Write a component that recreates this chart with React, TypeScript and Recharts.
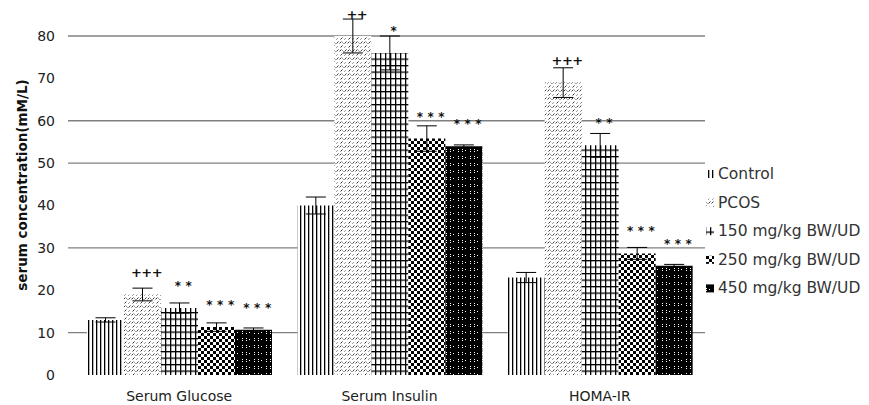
import React from "react";
import {
  BarChart,
  Bar,
  XAxis,
  YAxis,
  CartesianGrid,
  ErrorBar,
  LabelList,
  Legend,
  Label,
} from "recharts";

// ---- data ----
const categories = ["Serum Glucose", "Serum Insulin", "HOMA-IR"];

const controlValues = [13, 40, 23];
const controlErrors = [0.5, 2, 1.2];

const pcosValues = [19, 80, 69];
const pcosErrors = [1.5, 4, 3.5];
const pcosSig = ["+++", "++", "+++"];

const d150Values = [15.8, 76, 54.2];
const d150Errors = [1.2, 4, 2.8];
const d150Sig = ["**", "*", "**"];

const d250Values = [11.3, 55.8, 28.7];
const d250Errors = [1.0, 3, 1.4];
const d250Sig = ["***", "***", "***"];

const d450Values = [10.7, 54, 25.8];
const d450Errors = [0.4, 0.3, 0.3];
const d450Sig = ["***", "***", "***"];

const yTicks = [0, 10, 20, 30, 40, 50, 60, 70, 80];
const gridValues = [10, 30, 50, 60, 80];

const legendLabels = [
  "Control",
  "PCOS",
  "150 mg/kg BW/UD",
  "250 mg/kg BW/UD",
  "450 mg/kg BW/UD",
];

const rows = categories.map((name, i) => ({
  name,
  control: controlValues[i],
  controlErr: controlErrors[i],
  pcos: pcosValues[i],
  pcosErr: pcosErrors[i],
  pcosSig: pcosSig[i],
  d150: d150Values[i],
  d150Err: d150Errors[i],
  d150Sig: d150Sig[i],
  d250: d250Values[i],
  d250Err: d250Errors[i],
  d250Sig: d250Sig[i],
  d450: d450Values[i],
  d450Err: d450Errors[i],
  d450Sig: d450Sig[i],
}));

const series = [
  { key: "control", err: "controlErr", sig: null, pattern: "pControl", label: legendLabels[0] },
  { key: "pcos", err: "pcosErr", sig: "pcosSig", pattern: "pPcos", label: legendLabels[1] },
  { key: "d150", err: "d150Err", sig: "d150Sig", pattern: "p150", label: legendLabels[2] },
  { key: "d250", err: "d250Err", sig: "d250Sig", pattern: "p250", label: legendLabels[3] },
  { key: "d450", err: "d450Err", sig: "d450Sig", pattern: "p450", label: legendLabels[4] },
];

const FONT = "'DejaVu Sans', sans-serif";

const SigLabel = (props: any) => {
  const vb = props.viewBox && props.viewBox.width != null ? props.viewBox : props;
  const { x, y, width } = vb;
  const value = props.value;
  if (value == null || x == null) return null;
  const isStar = String(value).includes("*");
  return (
    <text
      x={x + width / 2 + (isStar ? 6 : 4)}
      y={y - 22}
      textAnchor="middle"
      dominantBaseline="central"
      fontFamily={FONT}
      fontWeight="bold"
      fontSize={isStar ? 12 : 13}
      letterSpacing={isStar ? 4.5 : -0.5}
      fill="#111"
    >
      {value}
    </text>
  );
};

const LegendBox = () => (
  <svg width={169} height={150} style={{ display: "block" }}>
    {series.map((s, i) => {
      const cy = 14 + i * 28.6;
      return (
        <g key={s.key}>
          <rect x={6} y={cy - 4} width={8} height={8} fill={`url(#${s.pattern})`} />
          <text
            x={18}
            y={cy}
            dominantBaseline="central"
            fontFamily={FONT}
            fontSize={15.5}
            fill="#333"
          >
            {s.label}
          </text>
        </g>
      );
    })}
  </svg>
);

const Title = () => (
  <text
    x={22}
    y={185}
    transform="rotate(-90, 22, 185)"
    textAnchor="middle"
    dominantBaseline="central"
    fontFamily={FONT}
    fontWeight="bold"
    fontSize={13.5}
    fill="#111"
  >
    serum concentration(mM/L)
  </text>
);

export default function App() {
  return (
    <div
      style={{
        position: "absolute",
        left: 0,
        top: 0,
        width: 869,
        height: 405,
        background: "#fff",
      }}
    >
      <BarChart
        width={869}
        height={405}
        data={rows}
        margin={{ top: 36, right: 164, bottom: 0, left: 0 }}
        barCategoryGap={13}
        barGap={0}
      >
        <defs>
          <pattern id="pControl" patternUnits="userSpaceOnUse" width={4} height={10}>
            <rect x={0} y={0} width={4} height={10} fill="#fff" />
            <rect x={0} y={0} width={1.3} height={10} fill="#000" />
          </pattern>
          <pattern id="pPcos" patternUnits="userSpaceOnUse" width={8} height={8}>
            <rect x={0} y={0} width={8} height={8} fill="#fff" />
            <path
              d="M0.5,3.5 L2.5,1.5 M4.5,7.5 L6.5,5.5 M3.5,3.5 L5.5,1.5 M0.5,7.5 L1.5,6.5 M6.5,2.5 L7.5,3.5"
              stroke="#222"
              strokeWidth={0.9}
            />
          </pattern>
          <pattern id="p150" patternUnits="userSpaceOnUse" width={5} height={6.5}>
            <rect x={0} y={0} width={5} height={6.5} fill="#fff" />
            <rect x={0} y={0} width={1.3} height={6.5} fill="#000" />
            <rect x={0} y={0} width={5} height={1.3} fill="#000" />
          </pattern>
          <pattern id="p250" patternUnits="userSpaceOnUse" width={6} height={6}>
            <rect x={0} y={0} width={6} height={6} fill="#fff" />
            <rect x={0} y={0} width={3} height={3} fill="#000" />
            <rect x={3} y={3} width={3} height={3} fill="#000" />
          </pattern>
          <pattern id="p450" patternUnits="userSpaceOnUse" width={12} height={7}>
            <rect x={0} y={0} width={12} height={7} fill="#000" />
            <rect x={2} y={2} width={1} height={1} fill="#fff" />
            <rect x={2} y={4} width={1} height={1} fill="#fff" />
            <rect x={6} y={2} width={1} height={1} fill="#fff" />
            <rect x={6} y={4} width={1} height={1} fill="#fff" />
            <rect x={9} y={3} width={1} height={1} fill="#fff" />
          </pattern>
        </defs>
        <CartesianGrid
          vertical={false}
          horizontalValues={gridValues}
          stroke="#808080"
          strokeWidth={1.3}
        />
        <XAxis
          dataKey="name"
          axisLine={false}
          tickLine={false}
          tickSize={0}
          tickMargin={16}
          height={30}
          interval={0}
          padding={{ left: 6, right: 0 }}
          tick={{ fontFamily: FONT, fontSize: 14, fill: "#222" }}
        />
        <YAxis
          domain={[0, 80]}
          ticks={yTicks}
          allowDataOverflow
          width={68}
          axisLine={false}
          tickLine={false}
          tickSize={0}
          tickMargin={13}
          tick={{ fontFamily: FONT, fontSize: 14, fill: "#222" }}
        >
          <Label content={<Title />} />
        </YAxis>
        <Legend
          layout="horizontal"
          align="center"
          verticalAlign="middle"
          wrapperStyle={{ left: 700, top: 160, width: 169, height: 150 }}
          content={<LegendBox />}
        />
        {series.map((s) => (
          <Bar
            key={s.key}
            dataKey={s.key}
            fill={`url(#${s.pattern})`}
            isAnimationActive={false}
            legendType="rect"
            name={s.label}
          >
            <ErrorBar
              dataKey={s.err}
              width={10}
              stroke="#000"
              strokeWidth={1}
              direction="y"
            />
            {s.sig ? <LabelList dataKey={s.sig} content={<SigLabel />} /> : null}
          </Bar>
        ))}
      </BarChart>
    </div>
  );
}
